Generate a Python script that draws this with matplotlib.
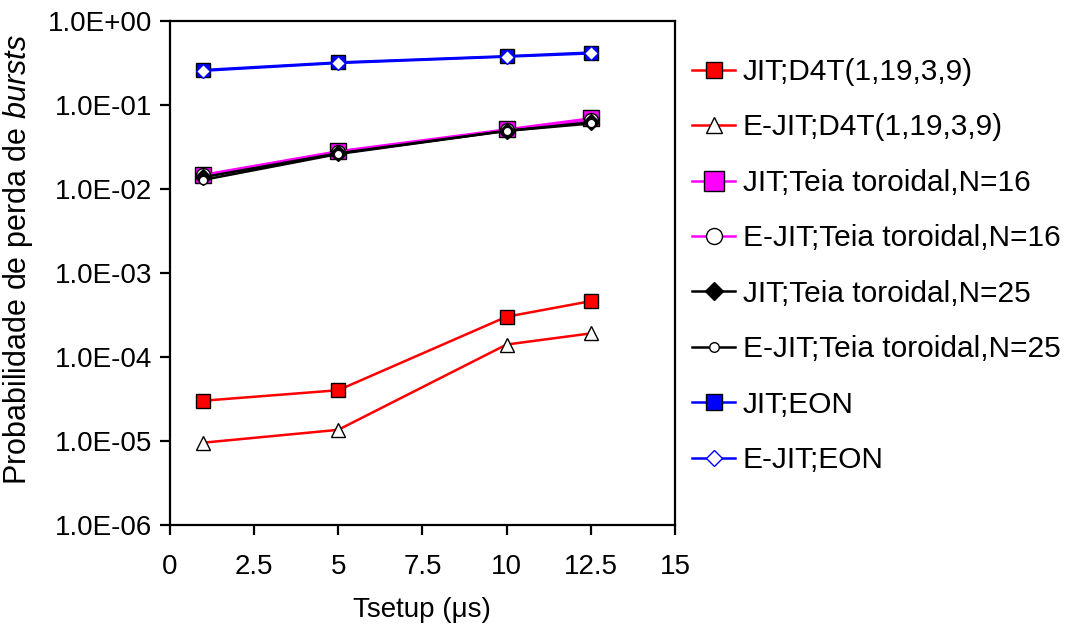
import matplotlib
matplotlib.use("Agg")
import matplotlib.pyplot as plt
from matplotlib.ticker import FuncFormatter, FixedLocator

plt.rcParams['font.family'] = ['Liberation Sans', 'DejaVu Sans']
plt.rcParams['mathtext.fontset'] = 'custom'
plt.rcParams['mathtext.rm'] = 'Liberation Sans'
plt.rcParams['mathtext.it'] = 'Liberation Sans:italic'

# Tsetup (us)
tsetup = [1, 5, 10, 12.5]

jit_d4t = [3.0e-5, 4.0e-5, 3.0e-4, 4.6e-4]
ejit_d4t = [9.5e-6, 1.35e-5, 1.4e-4, 1.9e-4]
jit_t16 = [0.0147, 0.028, 0.051, 0.069]
ejit_t16 = [0.0145, 0.0275, 0.050, 0.066]
jit_t25 = [0.0138, 0.0265, 0.049, 0.062]
ejit_t25 = [0.0128, 0.026, 0.049, 0.060]
jit_eon = [0.26, 0.32, 0.38, 0.42]
ejit_eon = [0.255, 0.315, 0.375, 0.41]

labels = ['JIT;D4T(1,19,3,9)', 'E-JIT;D4T(1,19,3,9)',
          'JIT;Teia toroidal,N=16', 'E-JIT;Teia toroidal,N=16',
          'JIT;Teia toroidal,N=25', 'E-JIT;Teia toroidal,N=25',
          'JIT;EON', 'E-JIT;EON']

fig = plt.figure(figsize=(10.68, 6.33), dpi=100)
ax = fig.add_axes([0.159, 0.171, 0.473, 0.796])

lw = 1.8
ax.plot(tsetup, jit_d4t, color='red', lw=lw, marker='s', ms=10.5,
        mfc='red', mec='black', mew=1.0, label=labels[0])
ax.plot(tsetup, ejit_d4t, color='red', lw=lw, marker='^', ms=10.5,
        mfc='white', mec='black', mew=1.0, label=labels[1])
ax.plot(tsetup, jit_t16, color='magenta', lw=lw, marker='s', ms=12,
        mfc='magenta', mec='black', mew=1.0, label=labels[2])
ax.plot(tsetup, ejit_t16, color='magenta', lw=lw, marker='o', ms=10,
        mfc='white', mec='black', mew=1.0, label=labels[3])
ax.plot(tsetup, jit_t25, color='black', lw=lw, marker='D', ms=8,
        mfc='black', mec='black', mew=1.0, label=labels[4])
ax.plot(tsetup, ejit_t25, color='black', lw=lw, marker='o', ms=6,
        mfc='white', mec='black', mew=1.0, label=labels[5])
ax.plot(tsetup, jit_eon, color='blue', lw=lw, marker='s', ms=9.5,
        mfc='blue', mec='black', mew=1.0, label=labels[6])
ax.plot(tsetup, ejit_eon, color='blue', lw=lw, marker='D', ms=7.5,
        mfc='white', mec='blue', mew=1.0, label=labels[7])

ax.set_yscale('log')
ax.set_ylim(1e-6, 1.0)
ax.set_xlim(0, 15)
ax.xaxis.set_major_locator(FixedLocator([0, 2.5, 5, 7.5, 10, 12.5, 15]))
ax.xaxis.set_major_formatter(FuncFormatter(lambda v, p: f'{v:g}'))
ax.yaxis.set_major_locator(FixedLocator([1e-6, 1e-5, 1e-4, 1e-3, 1e-2, 1e-1, 1.0]))
ax.yaxis.set_major_formatter(FuncFormatter(lambda v, p: f'{v:.1E}'))
ax.yaxis.set_minor_locator(FixedLocator([]))

for s in ax.spines.values():
    s.set_linewidth(1.6)
ax.tick_params(axis='both', which='major', direction='out', length=7,
               width=1.6, labelsize=20)
ax.tick_params(axis='x', pad=14)
ax.tick_params(axis='y', pad=6)

ax.set_xlabel('Tsetup (\u03bcs)', fontsize=20, labelpad=12)
ax.set_ylabel(r'Probabilidade de perda de $\it{bursts}$', fontsize=22)
ax.yaxis.set_label_coords(-0.267, 0.526)

ax.legend(loc='upper left', bbox_to_anchor=(1.01, 0.95), frameon=False,
          fontsize=21.5, handlelength=1.45, handletextpad=0.25,
          labelspacing=0.92, borderaxespad=0.0, markerscale=1.15)

fig.savefig('out.png', dpi=100)
